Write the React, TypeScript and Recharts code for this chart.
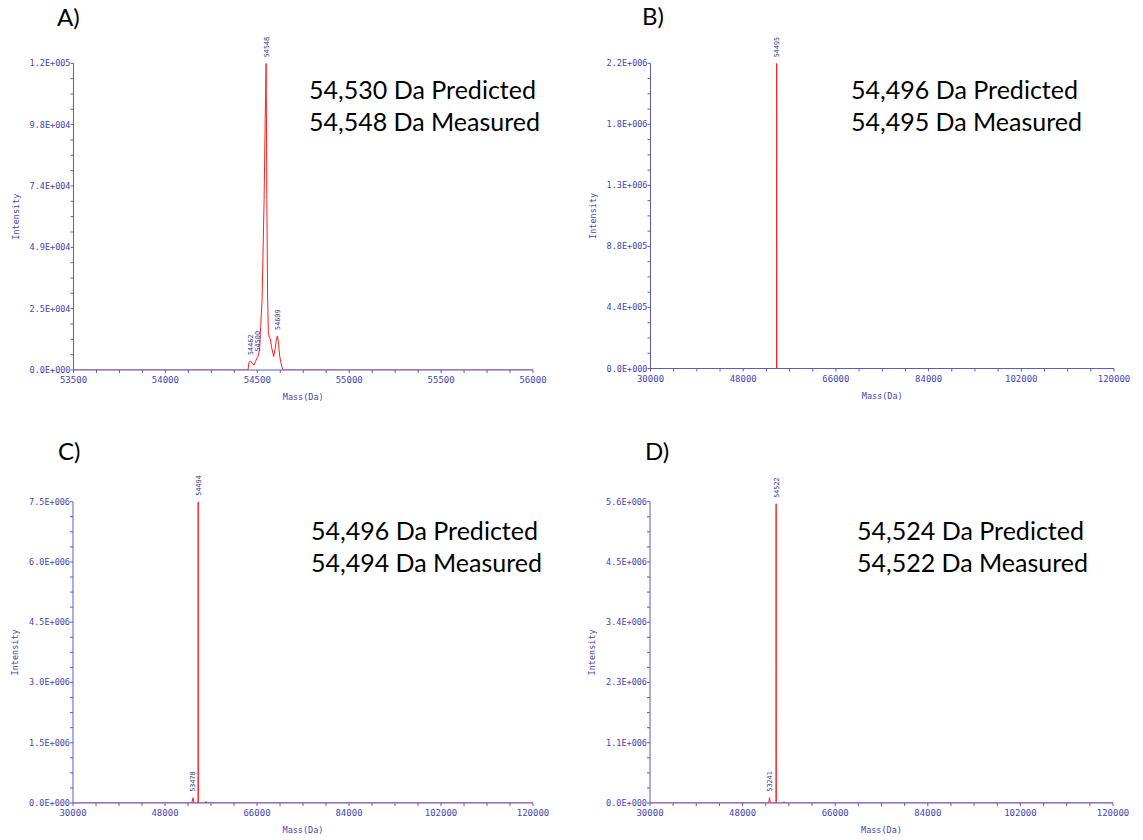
import { Label, Line, LineChart, ReferenceDot, XAxis, YAxis } from "recharts";

// ---- data ----

// A) zoomed view around the main peak
const massA = [
  53500, 54449, 54455, 54462, 54470, 54482, 54490, 54500, 54507, 54513, 54518, 54526, 54537, 54543, 54548,
  54552, 54556, 54560, 54566, 54571, 54578, 54589, 54597, 54603, 54609, 54615, 54621, 54628, 54634, 54641, 56000,
];
const intensityA = [
  0, 0, 3000, 3600, 2800, 2000, 3400, 5000, 6000, 9000, 17000, 28000, 68000, 100000, 122500,
  68000, 30000, 15000, 12800, 12400, 9000, 5300, 8500, 12000, 13600, 11000, 6000, 3000, 1200, 0, 0,
];
const peaksA = [54462, 54500, 54548, 54609];

// B)
const massB = [30000, 54480, 54495, 54510, 120000];
const intensityB = [0, 0, 2200000, 0, 0];
const peaksB = [54495];

// C)
const massC = [30000, 53250, 53478, 53650, 54480, 54494, 54508, 55900, 56020, 56140, 120000];
const intensityC = [0, 0, 130000, 0, 0, 7500000, 0, 0, 40000, 0, 0];
const peaksC = [53478, 54494];

// D)
const massD = [30000, 53050, 53241, 53400, 54510, 54522, 54535, 55950, 56050, 56150, 120000];
const intensityD = [0, 0, 100000, 0, 0, 5600000, 0, 0, 25000, 0, 0];
const peaksD = [53241, 54522];

// axis ticks
const xMajorsA = [53500, 54000, 54500, 55000, 55500, 56000];
const xLabelsA = ["53500", "54000", "54500", "55000", "55500", "56000"];
const xMajorsWide = [30000, 48000, 66000, 84000, 102000, 120000];
const xLabelsWide = ["30000", "48000", "66000", "84000", "102000", "120000"];

const yMajorsA = [0, 24500, 49000, 73500, 98000, 122500];
const yLabelsA = ["0.0E+000", "2.5E+004", "4.9E+004", "7.4E+004", "9.8E+004", "1.2E+005"];
const yMajorsB = [0, 440000, 880000, 1320000, 1760000, 2200000];
const yLabelsB = ["0.0E+000", "4.4E+005", "8.8E+005", "1.3E+006", "1.8E+006", "2.2E+006"];
const yMajorsC = [0, 1500000, 3000000, 4500000, 6000000, 7500000];
const yLabelsC = ["0.0E+000", "1.5E+006", "3.0E+006", "4.5E+006", "6.0E+006", "7.5E+006"];
const yMajorsD = [0, 1128000, 2256000, 3384000, 4512000, 5640000];
const yLabelsD = ["0.0E+000", "1.1E+006", "2.3E+006", "3.4E+006", "4.5E+006", "5.6E+006"];

// annotations
const panelLetters = ["A)", "B)", "C)", "D)"];
const predicted = ["54,530 Da Predicted", "54,496 Da Predicted", "54,496 Da Predicted", "54,524 Da Predicted"];
const measured = ["54,548 Da Measured", "54,495 Da Measured", "54,494 Da Measured", "54,522 Da Measured"];

const RED = "#ff1f1f";
const AXIS = "#5b5bc4";
const TICK_TEXT = "#4444b4";
const PEAK_TEXT = "#2e2e96";
const MONO = "'DejaVu Sans Mono', monospace";
const SANS = "Lato, 'Open Sans', sans-serif";

function zip(mass: number[], intensity: number[]) {
  return mass.map((m, i) => ({ mass: m, intensity: intensity[i] }));
}

// majors plus three minor ticks in between
function withMinors(majors: number[]) {
  const out: number[] = [];
  majors.forEach((m, k) => {
    out.push(m);
    if (k < majors.length - 1) {
      const step = (majors[k + 1] - m) / 4;
      for (let j = 1; j < 4; j++) out.push(m + step * j);
    }
  });
  return out;
}

function XTick({ x, y, payload, majors, labels }: any) {
  const i = majors.indexOf(payload.value);
  return (
    <g>
      <line x1={x} x2={x} y1={y} y2={y + 3} stroke={AXIS} />
      {i >= 0 && (
        <text x={x} y={y + 13} textAnchor="middle" fontFamily={MONO} fontSize={9} fill={TICK_TEXT}>
          {labels[i]}
        </text>
      )}
    </g>
  );
}

function YTick({ x, y, payload, majors, labels }: any) {
  const i = majors.indexOf(payload.value);
  return (
    <g>
      <line x1={x - 3} x2={x} y1={y} y2={y} stroke={AXIS} />
      {i >= 0 && (
        <text x={x - 3} y={y + 3} textAnchor="end" fontFamily={MONO} fontSize={8.5} fill={TICK_TEXT}>
          {labels[i]}
        </text>
      )}
    </g>
  );
}

interface PanelProps {
  mass: number[];
  intensity: number[];
  peaks: number[];
  xMajors: number[];
  xLabels: string[];
  yMajors: number[];
  yLabels: string[];
  left: number;
  top: number;
  width: number;
  height: number;
  margin: { top: number; right: number; bottom: number; left: number };
}

function Panel(p: PanelProps) {
  const data = zip(p.mass, p.intensity);
  const xMin = p.xMajors[0];
  const xMax = p.xMajors[p.xMajors.length - 1];
  const yMax = p.yMajors[p.yMajors.length - 1];
  return (
    <div style={{ position: "absolute", left: p.left, top: p.top }}>
      <LineChart width={p.width} height={p.height} data={data} margin={p.margin}>
        <XAxis
          type="number"
          dataKey="mass"
          domain={[xMin, xMax]}
          ticks={withMinors(p.xMajors)}
          interval={0}
          tickSize={0}
          tickMargin={0}
          tickLine={false}
          axisLine={{ stroke: AXIS }}
          height={30}
          allowDataOverflow
          tick={<XTick majors={p.xMajors} labels={p.xLabels} />}
        >
          <Label
            content={({ viewBox }: any) => (
              <text
                x={viewBox.x + viewBox.width / 2}
                y={viewBox.y + 30}
                textAnchor="middle"
                fontFamily={MONO}
                fontSize={8.5}
                fill={TICK_TEXT}
              >
                Mass(Da)
              </text>
            )}
          />
        </XAxis>
        <YAxis
          type="number"
          domain={[0, yMax]}
          ticks={withMinors(p.yMajors)}
          interval={0}
          tickSize={0}
          tickMargin={0}
          tickLine={false}
          axisLine={{ stroke: AXIS }}
          width={60}
          allowDataOverflow
          tick={<YTick majors={p.yMajors} labels={p.yLabels} />}
        >
          <Label
            content={({ viewBox }: any) => (
              <text
                transform={`translate(${viewBox.x + viewBox.width - 55},${viewBox.y + viewBox.height / 2}) rotate(-90)`}
                textAnchor="middle"
                fontFamily={MONO}
                fontSize={8.5}
                fill={TICK_TEXT}
              >
                Intensity
              </text>
            )}
          />
        </YAxis>
        <Line
          type="linear"
          dataKey="intensity"
          stroke={RED}
          strokeWidth={1}
          dot={false}
          activeDot={false}
          isAnimationActive={false}
        />
        {p.peaks.map((m) => (
          <ReferenceDot
            key={m}
            x={m}
            y={p.intensity[p.mass.indexOf(m)]}
            r={0}
            ifOverflow="visible"
            shape={(s: any) => (
              <text
                transform={`translate(${s.cx + 2.4},${s.cy - 6}) rotate(-90)`}
                fontFamily={MONO}
                fontSize={6.8}
                fill={PEAK_TEXT}
              >
                {String(m)}
              </text>
            )}
          />
        ))}
      </LineChart>
    </div>
  );
}

const letterPos = [
  { x: 57, y: 26 },
  { x: 642, y: 25 },
  { x: 58, y: 460 },
  { x: 645, y: 460 },
];
const notePos = [
  { x: 309, y: 99 },
  { x: 851, y: 99 },
  { x: 311, y: 540 },
  { x: 857, y: 540 },
];

export default function App() {
  return (
    <div style={{ position: "absolute", left: 0, top: 0, width: 1143, height: 840, background: "#fff" }}>
      <Panel
        mass={massA}
        intensity={intensityA}
        peaks={peaksA}
        xMajors={xMajorsA}
        xLabels={xLabelsA}
        yMajors={yMajorsA}
        yLabels={yLabelsA}
        left={0}
        top={0}
        width={570}
        height={420}
        margin={{ top: 63.3, right: 37, bottom: 20, left: 13.5 }}
      />
      <Panel
        mass={massB}
        intensity={intensityB}
        peaks={peaksB}
        xMajors={xMajorsWide}
        xLabels={xLabelsWide}
        yMajors={yMajorsB}
        yLabels={yLabelsB}
        left={570}
        top={0}
        width={573}
        height={420}
        margin={{ top: 63.3, right: 29, bottom: 21.5, left: 20.5 }}
      />
      <Panel
        mass={massC}
        intensity={intensityC}
        peaks={peaksC}
        xMajors={xMajorsWide}
        xLabels={xLabelsWide}
        yMajors={yMajorsC}
        yLabels={yLabelsC}
        left={0}
        top={430}
        width={570}
        height={410}
        margin={{ top: 71.7, right: 37, bottom: 7, left: 13 }}
      />
      <Panel
        mass={massD}
        intensity={intensityD}
        peaks={peaksD}
        xMajors={xMajorsWide}
        xLabels={xLabelsWide}
        yMajors={yMajorsD}
        yLabels={yLabelsD}
        left={570}
        top={430}
        width={573}
        height={410}
        margin={{ top: 71.7, right: 30, bottom: 7, left: 20 }}
      />
      <svg width={1143} height={840} style={{ position: "absolute", left: 0, top: 0, pointerEvents: "none" }}>
        {panelLetters.map((t, i) => (
          <text key={t} x={letterPos[i].x} y={letterPos[i].y} fontFamily={SANS} fontSize={24} fill="#000">
            {t}
          </text>
        ))}
        {predicted.map((t, i) => (
          <text
            key={"p" + i}
            x={notePos[i].x}
            y={notePos[i].y}
            fontFamily={SANS}
            fontSize={25}
            fill="#000"
            textLength={227}
            lengthAdjust="spacingAndGlyphs"
          >
            {t}
          </text>
        ))}
        {measured.map((t, i) => (
          <text
            key={"m" + i}
            x={notePos[i].x}
            y={notePos[i].y + 32}
            fontFamily={SANS}
            fontSize={25}
            fill="#000"
            textLength={231}
            lengthAdjust="spacingAndGlyphs"
          >
            {t}
          </text>
        ))}
      </svg>
    </div>
  );
}
